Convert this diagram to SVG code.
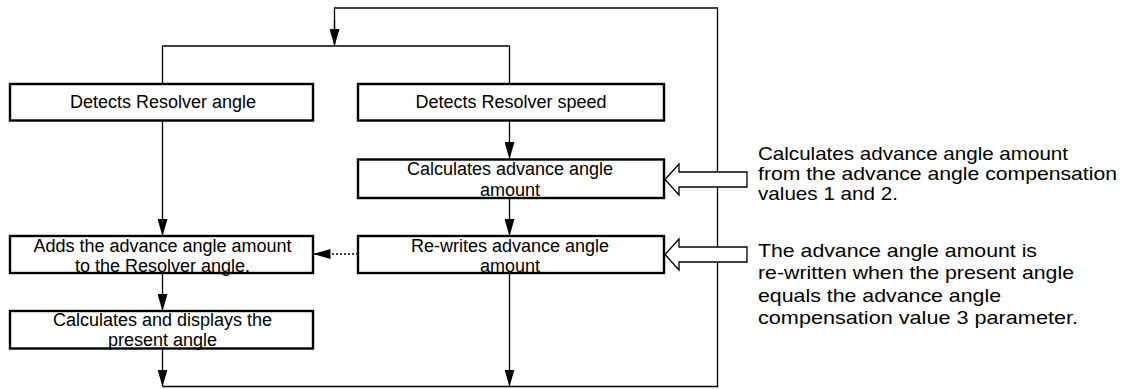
<svg xmlns="http://www.w3.org/2000/svg" width="1128" height="389" viewBox="0 0 1128 389">
<style>
.box{fill:#fff;stroke:#000;stroke-width:2.4}
.conn{fill:none;stroke:#000;stroke-width:1.3}
.dot{fill:none;stroke:#000;stroke-width:1.6;stroke-dasharray:2,2}
.hol{fill:#fff;stroke:#000;stroke-width:1.3;stroke-linejoin:miter}
.t{font-family:"Liberation Sans",Arial,sans-serif;font-size:18px;text-anchor:middle;fill:#000}
.n{font-family:"Liberation Sans",Arial,sans-serif;font-size:18.5px;fill:#000}
</style>
<defs>
<marker id="ah" markerUnits="userSpaceOnUse" markerWidth="17" markerHeight="10" refX="17" refY="5" orient="auto">
<path d="M0,0 L17,5 L0,10 Z" fill="#000"/>
</marker>
</defs>
<g id="connectors">
<polyline class="conn" points="334.5,46 334.5,8 717.5,8 717.5,386.5 162.5,386.5"/>
<line class="conn" x1="334.5" y1="20" x2="334.5" y2="46" marker-end="url(#ah)"/>
<polyline class="conn" points="162.5,84 162.5,46 509.5,46 509.5,84"/>
<line class="conn" x1="162.5" y1="121" x2="162.5" y2="236" marker-end="url(#ah)"/>
<line class="conn" x1="509.5" y1="121" x2="509.5" y2="159" marker-end="url(#ah)"/>
<line class="conn" x1="509.5" y1="198" x2="509.5" y2="236" marker-end="url(#ah)"/>
<line class="conn" x1="162.5" y1="273" x2="162.5" y2="311" marker-end="url(#ah)"/>
<line class="conn" x1="162.5" y1="349" x2="162.5" y2="386.5" marker-end="url(#ah)"/>
<line class="conn" x1="509.5" y1="273" x2="509.5" y2="386.5" marker-end="url(#ah)"/>
<line class="dot" x1="358" y1="254" x2="328" y2="254"/>
<line class="conn" x1="330" y1="254" x2="313.5" y2="254" marker-end="url(#ah)"/>
<path class="hol" d="M665,179.5 L679,164 L679,172 L747,172 L747,187 L679,187 L679,195 Z"/>
<path class="hol" d="M665,254.5 L679,239 L679,247 L747,247 L747,262 L679,262 L679,270 Z"/>
</g>
<g id="n1">
<rect class="box" x="10" y="84" width="303" height="36.5"/>
<text class="t" x="163" y="108.3">Detects Resolver angle</text>
</g>
<g id="n2">
<rect class="box" x="358" y="84" width="306" height="36.5"/>
<text class="t" x="511" y="108.3">Detects Resolver speed</text>
</g>
<g id="n3">
<rect class="box" x="358" y="159.5" width="306" height="38.5"/>
<text class="t" x="510" y="175">Calculates advance angle</text>
<text class="t" x="510" y="195.5">amount</text>
</g>
<g id="n4">
<rect class="box" x="358" y="236" width="306" height="37"/>
<text class="t" x="510" y="251.5">Re-writes advance angle</text>
<text class="t" x="510" y="271.5">amount</text>
</g>
<g id="n5">
<rect class="box" x="10" y="236" width="303" height="37"/>
<text class="t" x="162.5" y="251.5">Adds the advance angle amount</text>
<text class="t" x="162.5" y="271.5">to the Resolver angle.</text>
</g>
<g id="n6">
<rect class="box" x="10" y="311" width="303" height="37.5"/>
<text class="t" x="162.5" y="326">Calculates and displays the</text>
<text class="t" x="162.5" y="346">present angle</text>
</g>
<g id="note1">
<text class="n" x="758" y="160" textLength="310" lengthAdjust="spacingAndGlyphs">Calculates advance angle amount</text>
<text class="n" x="758" y="180" textLength="359" lengthAdjust="spacingAndGlyphs">from the advance angle compensation</text>
<text class="n" x="758" y="199.5" textLength="140" lengthAdjust="spacingAndGlyphs">values 1 and 2.</text>
</g>
<g id="note2">
<text class="n" x="758" y="257" textLength="279" lengthAdjust="spacingAndGlyphs">The advance angle amount is</text>
<text class="n" x="758" y="279.3" textLength="316" lengthAdjust="spacingAndGlyphs">re-written when the present angle</text>
<text class="n" x="758" y="301.6" textLength="243" lengthAdjust="spacingAndGlyphs">equals the advance angle</text>
<text class="n" x="758" y="323.9" textLength="320" lengthAdjust="spacingAndGlyphs">compensation value 3 parameter.</text>
</g>
</svg>
